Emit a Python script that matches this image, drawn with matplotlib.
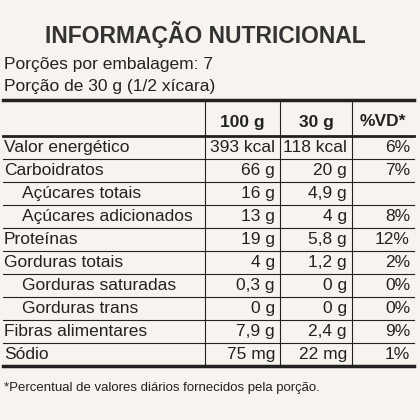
import matplotlib
matplotlib.use("Agg")
from matplotlib import pyplot as plt

plt.rcParams["font.family"] = ["Liberation Sans", "DejaVu Sans"]

title = "INFORMAÇÃO NUTRICIONAL"
portions = ["Porções por embalagem: 7", "Porção de 30 g (1/2 xícara)"]
header = ["100 g", "30 g", "%VD*"]
labels = ["Valor energético", "Carboidratos", "Açúcares totais", "Açúcares adicionados",
          "Proteínas", "Gorduras totais", "Gorduras saturadas", "Gorduras trans",
          "Fibras alimentares", "Sódio"]
indent = [0, 0, 1, 1, 0, 0, 1, 1, 0, 0]
per100 = ["393 kcal", "66 g", "16 g", "13 g", "19 g", "4 g", "0,3 g", "0 g", "7,9 g", "75 mg"]
per30 = ["118 kcal", "20 g", "4,9 g", "4 g", "5,8 g", "1,2 g", "0 g", "0 g", "2,4 g", "22 mg"]
vd = ["6%", "7%", "", "8%", "12%", "2%", "0%", "0%", "9%", "1%"]
footnote = "*Percentual de valores diários fornecidos pela porção."

fig = plt.figure(figsize=(4.2, 4.2), dpi=100)
ax = fig.add_axes([0, 0, 1, 1])
ax.set_xlim(0, 420)
ax.set_ylim(420, 0)
ax.axis("off")
fig.patch.set_facecolor("#f7f3ee")

ink = "#222222"
fs = 12.5
ax.text(205, 35, title, ha="center", va="center", fontsize=16.5, fontweight="bold", color="#333333")
ax.text(4, 64, portions[0], va="center", fontsize=fs, color=ink)
ax.text(4, 86, portions[1], va="center", fontsize=fs, color=ink)

x0, x1, x2, x3, x4 = 3, 205, 280, 352, 414
ax.plot([x0, x4], [100, 100], color=ink, lw=2.5)
ax.plot([x0, x4], [136, 136], color=ink, lw=2)
ax.plot([x0, x4], [366, 366], color=ink, lw=2.5)

ax.text((x1 + x2) / 2, 122, header[0], ha="center", va="center", fontsize=fs, fontweight="bold", color=ink)
ax.text((x2 + x3) / 2, 122, header[1], ha="center", va="center", fontsize=fs, fontweight="bold", color=ink)
ax.text((x3 + x4) / 2, 122, header[2], ha="center", va="center", fontsize=fs, fontweight="bold", color=ink)

for x in (x1, x2, x3):
    ax.plot([x, x], [100, 366], color=ink, lw=0.8)

rh = 23
top = 136
for i, lab in enumerate(labels):
    yc = top + rh * i + rh / 2
    ax.text(x0 + 1 + 18 * indent[i], yc, lab, va="center", fontsize=fs, color=ink)
    ax.text(x2 - 5, yc, per100[i], ha="right", va="center", fontsize=fs, color=ink)
    ax.text(x3 - 5, yc, per30[i], ha="right", va="center", fontsize=fs, color=ink)
    ax.text(x4 - 4, yc, vd[i], ha="right", va="center", fontsize=fs, color=ink)
    if i < len(labels) - 1:
        ax.plot([x0, x4], [top + rh * (i + 1)] * 2, color=ink, lw=0.8)

ax.text(4, 388, footnote, va="center", fontsize=9.5, color=ink)

fig.savefig("out.png", dpi=100, facecolor=fig.get_facecolor())
